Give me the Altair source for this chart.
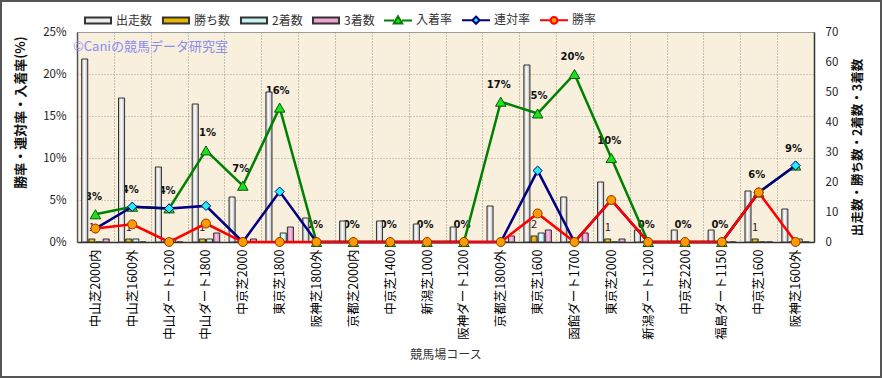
import altair as alt
import pandas as pd

FONT = "Noto Sans CJK JP"

courses = ["中山芝2000内", "中山芝1600外", "中山ダート1200", "中山ダート1800", "中京芝2000",
           "東京芝1800", "阪神芝1800外", "京都芝2000内", "中京芝1400", "新潟芝1000",
           "阪神ダート1200", "京都芝1800外", "東京芝1600", "函館ダート1700", "東京芝2000",
           "新潟ダート1200", "中京芝2200", "福島ダート1150", "中京芝1600", "阪神芝1600外"]
runs = [61, 48, 25, 46, 15, 50, 8, 7, 7, 6, 5, 12, 59, 15, 20, 4, 4, 4, 17, 11]
wins = [1, 1, 0, 1, 0, 0, 0, 0, 0, 0, 0, 0, 2, 0, 1, 0, 0, 0, 1, 0]
seconds = [0, 1, 1, 1, 0, 3, 0, 0, 0, 0, 0, 0, 3, 0, 0, 0, 0, 0, 0, 1]
thirds = [1, 0, 0, 3, 1, 5, 0, 0, 0, 0, 0, 2, 4, 3, 1, 0, 0, 0, 0, 0]
win_rate = [1.6, 2.1, 0, 2.2, 0, 0, 0, 0, 0, 0, 0, 0, 3.4, 0, 5.0, 0, 0, 0, 5.9, 0]
quinella_rate = [1.6, 4.2, 4.0, 4.3, 0, 6.0, 0, 0, 0, 0, 0, 0, 8.5, 0, 5.0, 0, 0, 0, 5.9, 9.1]
place_rate = [3.3, 4.2, 4.0, 10.9, 6.7, 16.0, 0, 0, 0, 0, 0, 16.7, 15.3, 20.0, 10.0, 0, 0, 0, 5.9, 9.1]

bar_series = ["出走数", "勝ち数", "2着数", "3着数"]
bar_edge = ["#b4b4b4", "#b88600", "#9fdede", "#d67cb6"]
bar_mid = ["#ffffff", "#ffd21a", "#eaffff", "#ffc4e8"]
line_series = ["入着率", "連対率", "勝率"]
all_series = bar_series + line_series

bars = pd.DataFrame(
    [(c, s, v) for s, vals in zip(bar_series, [runs, wins, seconds, thirds]) for c, v in zip(courses, vals)],
    columns=["course", "series", "value"])
rates = pd.DataFrame(
    [(c, s, v) for s, vals in zip(line_series, [place_rate, quinella_rate, win_rate]) for c, v in zip(courses, vals)],
    columns=["course", "series", "value"])
legend_df = pd.DataFrame({"series": all_series})

X_AXIS = alt.Axis(title="競馬場コース", labelAngle=270, labelAlign="right",
                  labelBaseline="middle", labelPadding=7, labelFontSize=12.5,
                  labelColor="#000", ticks=False, grid=True, tickBand="extent",
                  gridColor="#8c8c8c", gridDash=[1, 2], gridWidth=1,
                  domainColor="#333", domainWidth=1.5, titleFontSize=12,
                  titleFontWeight="normal", titleColor="#333", titlePadding=10,
                  labelFont=FONT, titleFont=FONT)
X_SCALE = alt.Scale(paddingInner=0, paddingOuter=0)


def xe():
    return alt.X("course:N", sort=courses, scale=X_SCALE, axis=X_AXIS)


def xoff():
    return alt.XOffset("series:N", sort=bar_series,
                       scale=alt.Scale(domain=bar_series, paddingInner=0.15, paddingOuter=0.65))


RATE_DOM = alt.Scale(domain=[0, 25], nice=False, zero=True)
CNT_DOM = alt.Scale(domain=[0, 70], nice=False, zero=True)

left_axis = alt.Axis(orient="left", values=[0, 5, 10, 15, 20, 25], labelExpr="datum.value + '%'",
                     title="勝率・連対率・入着率(%)", grid=True, ticks=False, labelPadding=11,
                     gridColor="#a0a0a0", gridDash=[1, 2], gridWidth=1,
                     labelFontSize=11.5, labelColor="#222", domainColor="#555", domainWidth=1.5,
                     titleAngle=270, titleX=-57, titleY=80, titleAlign="center", titleBaseline="middle",
                     titleFontSize=13, titleFontWeight="bold", titleColor="#111",
                     labelFont=FONT, titleFont=FONT)
right_axis = alt.Axis(orient="right", values=[0, 10, 20, 30, 40, 50, 60, 70],
                      title="出走数・勝ち数・2着数・3着数", grid=False, ticks=False, labelPadding=11,
                      labelFontSize=11.5, labelColor="#222", domainColor="#333", domainWidth=1.5,
                      titleAngle=270, titleX=43, titleY=115, titleAlign="center", titleBaseline="middle",
                      titleFontSize=12.5, titleFontWeight="bold", titleColor="#111",
                      labelFont=FONT, titleFont=FONT)

# green rate labels (drawn beneath bars)
place_df = rates[rates.series == "入着率"]
rate_labels = alt.Chart(place_df).transform_calculate(
    label="format(datum.value, '.0f') + '%'"
).mark_text(dy=-17, dx=-2, fontSize=10, fontWeight="bold", font="DejaVu Sans", color="#111").encode(
    x=xe(),
    y=alt.Y("value:Q", scale=RATE_DOM, axis=left_axis),
    text="label:N")

bar_layers = []
for i, (s, ce, cm) in enumerate(zip(bar_series, bar_edge, bar_mid)):
    grad = alt.Gradient(gradient="linear", x1=0, x2=1, y1=0, y2=0,
                        stops=[alt.GradientStop(color=ce, offset=0),
                               alt.GradientStop(color=cm, offset=0.45),
                               alt.GradientStop(color=ce, offset=1)])
    bar_layers.append(
        alt.Chart(bars).transform_filter(alt.datum.series == s).mark_bar(
            color=grad, stroke="#333", strokeWidth=1).encode(
            x=xe(), xOffset=xoff(),
            y=alt.Y("value:Q", scale=CNT_DOM, axis=right_axis if i == 0 else None)))

win_labels = alt.Chart(bars).transform_filter(
    "datum.series == '勝ち数' && datum.value > 0"
).mark_text(dy=-11, fontSize=11, font=FONT, color="#222").encode(
    x=xe(), xOffset=xoff(),
    y=alt.Y("value:Q", scale=CNT_DOM, axis=None),
    text="value:Q")


def line_layer(name, line_color, shape, fill, outline, size):
    d = rates[rates.series == name]
    ln = alt.Chart(d).mark_line(color=line_color, strokeWidth=2.5).encode(
        x=xe(), y=alt.Y("value:Q", scale=RATE_DOM, axis=None))
    pt = alt.Chart(d).mark_point(shape=shape, filled=True, fill=fill, stroke=outline,
                                 strokeWidth=1, size=size, opacity=1).encode(
        x=xe(), y=alt.Y("value:Q", scale=RATE_DOM, axis=None))
    return [ln, pt]


green = line_layer("入着率", "#008000", "triangle-up", "#1ee01e", "#0a5a0a", 110)
blue = line_layer("連対率", "#000080", "diamond", "#22f0f0", "#000080", 85)
red = line_layer("勝率", "#ff0000", "circle", "#ff9a00", "#8a3a00", 80)

shape_paths = [
    "M-0.93,-0.21H0.93V0.21H-0.93Z",
    "M-0.93,-0.21H0.93V0.21H-0.93Z",
    "M-0.93,-0.21H0.93V0.21H-0.93Z",
    "M-0.93,-0.21H0.93V0.21H-0.93Z",
    "M-1,0H-0.28M0.28,0H1M0,-0.3L0.3,0.22L-0.3,0.22Z",
    "M-1,0H-0.26M0.26,0H1M0,-0.26L0.26,0L0,0.26L-0.26,0Z",
    "M-1,0H-0.24M0.24,0H1M-0.24,0A0.24,0.24 0 1,0 0.24,0A0.24,0.24 0 1,0 -0.24,0Z",
]
legend_fill = ["#ececec", "#e8b600", "#c6f3f1", "#f2a2d2", "#1ee01e", "#22f0f0", "#ff9a00"]
legend_stroke = ["#333333", "#333333", "#333333", "#333333", "#008000", "#000080", "#ff0000"]
LEG = alt.Legend(title=None)
legend_layer = alt.Chart(legend_df).transform_filter("false").mark_point(
    filled=True, opacity=1, strokeWidth=2, size=784).encode(
    fill=alt.Fill("series:N", scale=alt.Scale(domain=all_series, range=legend_fill), legend=LEG),
    stroke=alt.Stroke("series:N", scale=alt.Scale(domain=all_series, range=legend_stroke), legend=LEG),
    shape=alt.Shape("series:N", scale=alt.Scale(domain=all_series, range=shape_paths), legend=LEG))

watermark = alt.Chart(legend_df.head(1)).mark_text(
    text="©Caniの競馬データ研究室", align="left", baseline="middle", fontSize=13,
    font=FONT, color="#8a8cf2").encode(x=alt.value(-4), y=alt.value(15))

frame = alt.Chart(legend_df.head(1)).mark_rect(
    fillOpacity=0, stroke="#555", strokeWidth=2).encode(
    x=alt.value(-76), x2=alt.value(804), y=alt.value(-31), y2=alt.value(345))

chart = alt.layer(
    rate_labels, *bar_layers, win_labels, *green, *blue, *red, legend_layer, watermark, frame
).resolve_scale(y="independent").properties(
    width=737, height=210,
    autosize=alt.AutoSizeParams(type="none"),
    padding={"left": 77, "top": 32, "right": 68, "bottom": 136},
    background="white",
    view=alt.ViewBackground(fill="#f8efdc", stroke="#9a9a9a", strokeWidth=1),
).configure_view(
    fill="#f8efdc", stroke="#9a9a9a", strokeWidth=1
).configure_legend(
    orient="none", legendX=6, legendY=-27, direction="horizontal",
    labelFont=FONT, labelFontSize=12, labelColor="#333", symbolSize=784,
    symbolStrokeWidth=2, labelOffset=3, columnPadding=5
)

chart.save("out.html", embed_options={"renderer": "svg", "actions": False})
